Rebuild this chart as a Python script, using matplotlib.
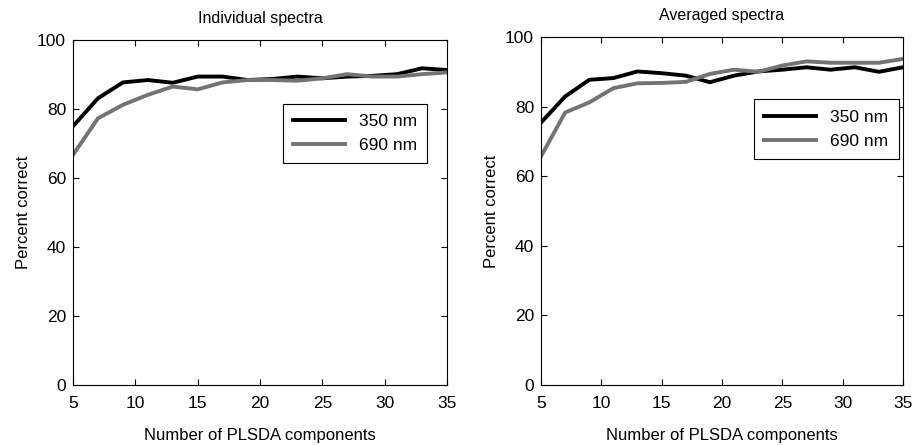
import matplotlib
matplotlib.use("Agg")
import matplotlib.pyplot as plt

plt.rcParams['font.family'] = ['Liberation Sans', 'DejaVu Sans']

components = [5, 7, 9, 11, 13, 15, 17, 19, 21, 23, 25, 27, 29, 31, 33, 35]

# Individual spectra
ind_350 = [75.0, 83.1, 87.7, 88.4, 87.6, 89.4, 89.4, 88.4, 88.7, 89.4, 88.9, 89.4, 89.6, 90.1, 91.8, 91.3]
ind_690 = [66.7, 77.3, 81.2, 84.1, 86.5, 85.7, 87.7, 88.4, 88.4, 88.2, 88.9, 90.1, 89.4, 89.4, 90.1, 90.6]

# Averaged spectra
avg_350 = [75.4, 82.9, 87.7, 88.2, 90.1, 89.6, 88.9, 87.0, 88.9, 90.1, 90.6, 91.3, 90.6, 91.3, 90.0, 91.3]
avg_690 = [65.7, 78.3, 81.2, 85.3, 86.7, 86.8, 87.1, 89.4, 90.6, 90.0, 91.8, 93.0, 92.6, 92.6, 92.6, 93.7]

titles = ["Individual spectra", "Averaged spectra"]
labels = ["350 nm", "690 nm"]

fig = plt.figure(figsize=(9.17, 4.45), dpi=100)
ax1 = fig.add_axes([73/917, 1-385/445, 374/917, 345/445])
ax2 = fig.add_axes([541/917, 1-385/445, 362/917, 348/445])

panels = [(ax1, ind_350, ind_690, (0.537, 0.617)), (ax2, avg_350, avg_690, (0.564, 0.624))]
for i, (ax, s350, s690, legpos) in enumerate(panels):
    ax.plot(components, s350, color='black', linewidth=2.8, label=labels[0])
    ax.plot(components, s690, color='#737373', linewidth=2.8, label=labels[1])
    ax.set_xlim(5, 35)
    ax.set_ylim(0, 100)
    ax.set_xticks([5, 10, 15, 20, 25, 30, 35])
    ax.set_yticks([0, 20, 40, 60, 80, 100])
    ax.tick_params(direction='in', top=True, right=True, labelsize=12.5, length=4, pad=5)
    ax.tick_params(axis='x', pad=8)
    ax.set_xlabel("Number of PLSDA components", fontsize=12, labelpad=12)
    ax.set_ylabel("Percent correct", fontsize=12)
    ax.set_title(titles[i], fontsize=11.5, pad=12)
    leg = ax.legend(loc='lower left', bbox_to_anchor=legpos, fontsize=12.5, fancybox=False,
                    edgecolor='black', framealpha=1, handlelength=3.0, borderpad=0.6)
    leg.get_frame().set_linewidth(0.8)

fig.savefig("out.png", dpi=100)
